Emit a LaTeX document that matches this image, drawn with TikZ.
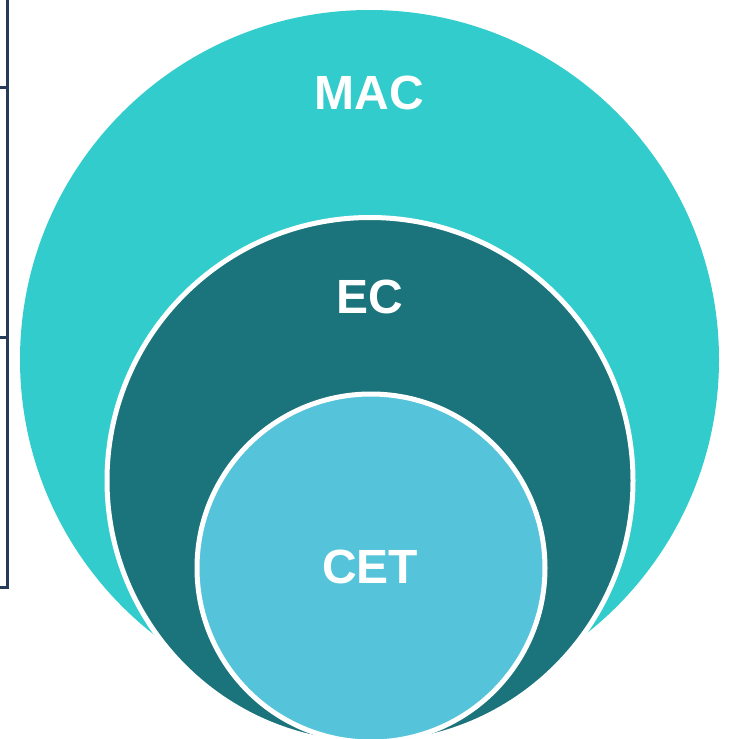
\documentclass[tikz,border=0pt]{standalone}
\usepackage{fontspec}
\setmainfont{Liberation Sans}
\definecolor{macfill}{RGB}{51,204,204}
\definecolor{ecfill}{RGB}{27,115,123}
\definecolor{cetfill}{RGB}{85,196,218}
\definecolor{framenavy}{RGB}{38,58,90}
\tikzset{
  ring/.style={circle, draw=white, line width=5pt, inner sep=0pt},
  ringlabel/.style={text=white, font=\fontsize{48}{54}\selectfont\bfseries, inner sep=0pt},
  framerule/.style={draw=framenavy, line width=3pt}
}
\begin{document}
\begin{tikzpicture}[x=1pt,y=-1pt]
  \useasboundingbox (0,0) rectangle (731,739);
  % side frame with ticks
  \coordinate (ftop) at (7,0);
  \coordinate (fbot) at (7,587);
  \coordinate (t1a) at (0,87);  \coordinate (t1b) at (7,87);
  \coordinate (t2a) at (0,337); \coordinate (t2b) at (7,337);
  \coordinate (t3a) at (0,587);
  \draw[framerule] (ftop) -- (fbot) -- (t3a);
  \draw[framerule] (t1a) -- (t1b);
  \draw[framerule] (t2a) -- (t2b);
  % nested circles
  \node[circle, fill=macfill, inner sep=0pt, minimum size=699pt] (mac) at (369.5,359.5) {};
  \node[ring, fill=ecfill, minimum size=526pt] (ec) at (370,480.5) {};
  \node[ring, fill=cetfill, minimum size=348pt] (cet) at (371,568) {};
  % labels
  \node[ringlabel] (maclabel) at (369.5,93) {MAC};
  \node[ringlabel] (eclabel) at (370,297) {EC};
  \node[ringlabel] (cetlabel) at (370,567) {CET};
\end{tikzpicture}
\end{document}
